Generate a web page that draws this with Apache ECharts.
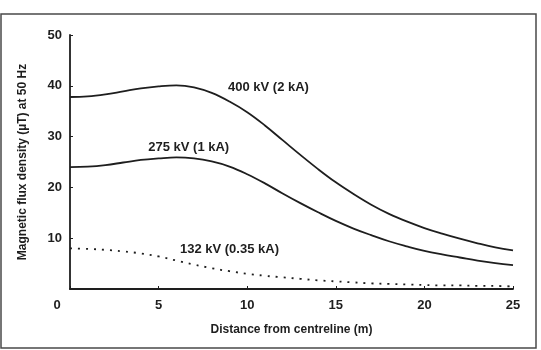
<!DOCTYPE html>
<html>
<head>
<meta charset="utf-8">
<script src="https://cdn.jsdelivr.net/npm/echarts@6/dist/echarts.min.js"></script>
<style>
  html, body { margin: 0; padding: 0; background: #fff; }
  #graphic { width: 541px; height: 350px; }
</style>
</head>
<body>
<div id="graphic"></div>
<script>
// 数据 - 距中心线距离 (m)
var distance = [0, 1, 2, 3, 4, 5, 6, 7, 8, 9, 10, 11, 12, 13, 14, 15, 16, 17, 18, 19, 20, 21, 22, 23, 24, 25];

// 磁通密度 (uT)
var kv400 = [37.8, 37.9, 38.3, 38.9, 39.5, 39.9, 40.1, 39.7, 38.6, 36.9, 34.8, 32.2, 29.3, 26.4, 23.6, 21.0, 18.7, 16.6, 14.8, 13.3, 12.0, 10.9, 9.9, 9.0, 8.2, 7.6];
var kv275 = [24.0, 24.1, 24.4, 24.9, 25.4, 25.7, 25.9, 25.7, 25.1, 24.1, 22.6, 20.8, 18.8, 16.9, 15.1, 13.4, 11.9, 10.6, 9.4, 8.4, 7.5, 6.8, 6.2, 5.6, 5.1, 4.7];
var kv132 = [8.0, 7.9, 7.7, 7.4, 7.0, 6.4, 5.6, 4.8, 4.1, 3.5, 3.0, 2.6, 2.3, 2.0, 1.7, 1.5, 1.3, 1.1, 1.0, 0.9, 0.8, 0.7, 0.7, 0.6, 0.6, 0.5];

// 曲线标注
var seriesNames = ['400 kV (2 kA)', '275 kV (1 kA)', '132 kV (0.35 kA)'];
var labelX = [11.2, 6.7, 9.0];
var labelY = [39.7, 27.9, 7.7];

var font = 'Liberation Sans, Arial, sans-serif';
var ink = '#1e1e1e';

function pairs(ys){
    var ret = [];
    for(var i=0; i<distance.length; i++){
        ret.push([distance[i], ys[i]]);
    }
    return ret;
}

function makeSeries(idx, ys, dashed){
    return {
        name: seriesNames[idx],
        type: 'line',
        smooth: 0.4,
        symbol: 'none',
        data: pairs(ys),
        lineStyle: dashed
            ? {color: ink, width: 1.8, type: [2, 6]}
            : {color: ink, width: 1.8},
        markPoint: {
            symbol: 'circle',
            symbolSize: 1,
            itemStyle: {color: 'rgba(0,0,0,0)'},
            label: {
                show: true, position: 'inside',
                formatter: seriesNames[idx],
                color: ink, fontFamily: font, fontWeight: 'bold', fontSize: 13
            },
            data: [{coord: [labelX[idx], labelY[idx]]}]
        }
    };
}

function getOption(){
    var option = {
        backgroundColor: '#fff',
        animation: false,
        grid: {left: 70, right: 28, top: 35, bottom: 61},
        xAxis: {
            type: 'value', min: 0, max: 25, interval: 5,
            name: 'Distance from centreline (m)',
            nameLocation: 'middle', nameGap: 35,
            nameTextStyle: {color: ink, fontFamily: font, fontWeight: 'bold', fontSize: 12},
            axisLine: {lineStyle: {color: ink, width: 1.8}},
            axisTick: {inside: true, length: 3, lineStyle: {color: ink}},
            splitLine: {show: false},
            axisLabel: {
                margin: 10, color: ink, fontFamily: font, fontWeight: 'bold', fontSize: 13,
                formatter: function(v){ return v === 0 ? '{z|0}' : v; },
                rich: {z: {padding: [0, 26, 0, 0], color: ink, fontFamily: font, fontWeight: 'bold', fontSize: 13}}
            }
        },
        yAxis: {
            type: 'value', min: 0, max: 50, interval: 10,
            name: 'Magnetic flux density (µT) at 50 Hz',
            nameLocation: 'middle', nameGap: 41,
            nameTextStyle: {color: ink, fontFamily: font, fontWeight: 'bold', fontSize: 12},
            axisLine: {show: true, lineStyle: {color: ink, width: 1.8}},
            axisTick: {show: true, inside: true, length: 3, lineStyle: {color: ink}},
            splitLine: {show: false},
            axisLabel: {
                margin: 8, color: ink, fontFamily: font, fontWeight: 'bold', fontSize: 13,
                formatter: function(v){ return v === 0 ? '' : v; }
            }
        },
        graphic: [{
            type: 'rect', silent: true,
            shape: {x: 1, y: 14, width: 535, height: 334},
            style: {fill: 'none', stroke: '#4a4a4a', lineWidth: 1.5}
        }],
        series: [
            makeSeries(0, kv400, false),
            makeSeries(1, kv275, false),
            makeSeries(2, kv132, true)
        ]
    };
    return option;
}

var graphic = echarts.init(document.getElementById('graphic'));
graphic.setOption(getOption());
</script>
</body>
</html>
